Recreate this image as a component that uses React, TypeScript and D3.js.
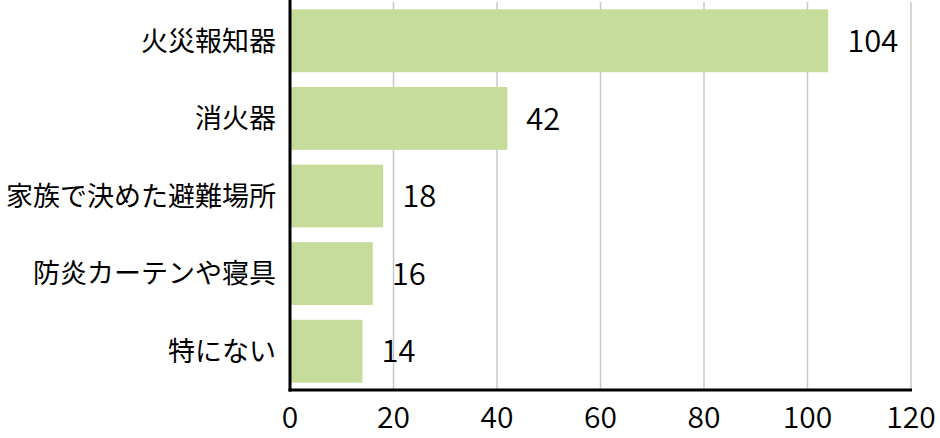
import { useRef, useEffect } from 'react'
import * as d3 from 'd3'

const categories = ['火災報知器', '消火器', '家族で決めた避難場所', '防炎カーテンや寝具', '特にない']
const values = [104, 42, 18, 16, 14]
const xTicks = [0, 20, 40, 60, 80, 100, 120]

const W = 940
const H = 438
const LEFT = 290
const RIGHT = 911
const TOP = 2
const BOTTOM = 390
const FONT = '"Noto Sans CJK JP", "Noto Sans", sans-serif'

export default function App() {
  const ref = useRef<SVGSVGElement>(null)

  useEffect(() => {
    if (!ref.current) return
    const svg = d3.select(ref.current)
    svg.selectAll('*').remove()

    const x = d3.scaleLinear().domain([0, 120]).range([LEFT, RIGHT])
    const y = d3.scaleBand<string>().domain(categories).range([TOP, BOTTOM]).paddingInner(0.19).paddingOuter(0.095)

    // gridlines
    svg
      .append('g')
      .selectAll('line')
      .data(xTicks.slice(1))
      .join('line')
      .attr('x1', (d) => x(d))
      .attr('x2', (d) => x(d))
      .attr('y1', TOP)
      .attr('y2', BOTTOM)
      .attr('stroke', '#c8c8c8')
      .attr('stroke-width', 1.5)

    // bars
    svg
      .append('g')
      .selectAll('rect')
      .data(values)
      .join('rect')
      .attr('x', x(0))
      .attr('y', (_, i) => y(categories[i])!)
      .attr('width', (d) => x(d) - x(0))
      .attr('height', y.bandwidth())
      .attr('fill', '#c6dc9a')

    // value labels
    svg
      .append('g')
      .selectAll('text')
      .data(values)
      .join('text')
      .attr('x', (d) => x(d) + 19)
      .attr('y', (_, i) => y(categories[i])! + y.bandwidth() / 2)
      .attr('dy', '0.36em')
      .attr('font-family', FONT)
      .attr('font-size', 31)
      .attr('font-weight', 350)
      .attr('fill', '#000')
      .text((d) => d)

    // category labels
    svg
      .append('g')
      .selectAll('text')
      .data(categories)
      .join('text')
      .attr('x', LEFT - 14)
      .attr('y', (d) => y(d)! + y.bandwidth() / 2)
      .attr('dy', '0.36em')
      .attr('text-anchor', 'end')
      .attr('font-family', FONT)
      .attr('font-size', 27)
      .attr('fill', '#000')
      .text((d) => d)

    // axes lines
    svg
      .append('line')
      .attr('x1', LEFT)
      .attr('x2', LEFT)
      .attr('y1', 0)
      .attr('y2', BOTTOM + 1.5)
      .attr('stroke', '#000')
      .attr('stroke-width', 3)
    svg
      .append('line')
      .attr('x1', LEFT - 1.5)
      .attr('x2', RIGHT + 1)
      .attr('y1', BOTTOM)
      .attr('y2', BOTTOM)
      .attr('stroke', '#000')
      .attr('stroke-width', 3)

    // tick labels
    svg
      .append('g')
      .selectAll('text')
      .data(xTicks)
      .join('text')
      .attr('x', (d) => x(d))
      .attr('y', 417)
      .attr('dy', '0.36em')
      .attr('text-anchor', 'middle')
      .attr('font-family', FONT)
      .attr('font-size', 30)
      .attr('font-weight', 350)
      .attr('fill', '#000')
      .text((d) => d)
  }, [])

  return (
    <svg
      ref={ref}
      width={W}
      height={H}
      viewBox={`0 0 ${W} ${H}`}
      style={{ position: 'absolute', left: 0, top: 0, background: '#fff' }}
    />
  )
}
